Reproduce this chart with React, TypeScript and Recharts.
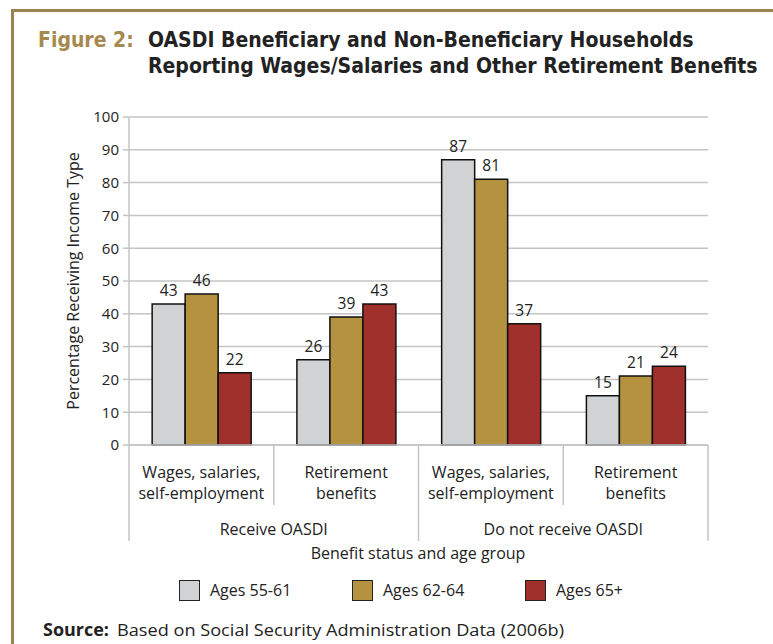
import { BarChart, Bar, XAxis, YAxis, CartesianGrid, LabelList } from 'recharts';

// category labels (two lines each) and outer groups
const catLine1 = ['Wages, salaries,', 'Retirement', 'Wages, salaries,', 'Retirement'];
const catLine2 = ['self-employment', 'benefits', 'self-employment', 'benefits'];
const groups = ['Receive OASDI', 'Receive OASDI', 'Do not receive OASDI', 'Do not receive OASDI'];

// percentage receiving income type
const ages5561 = [43, 26, 87, 15];
const ages6264 = [46, 39, 81, 21];
const ages65plus = [22, 43, 37, 24];

const yTicks = [0, 10, 20, 30, 40, 50, 60, 70, 80, 90, 100];

const SERIES = [
  { key: 'a', name: 'Ages 55-61', color: '#d1d2d4', values: ages5561 },
  { key: 'b', name: 'Ages 62-64', color: '#b5923f', values: ages6264 },
  { key: 'c', name: 'Ages 65+', color: '#a0302b', values: ages65plus },
];

const data = catLine1.map((_, i) => ({
  cat: i,
  group: groups[i],
  a: ages5561[i],
  b: ages6264[i],
  c: ages65plus[i],
}));

const FONT = '"Open Sans", Lato, sans-serif';
const TITLE_FONT = '"DejaVu Sans", sans-serif';

const W = 773;
const H = 644;
const PLOT_LEFT = 129;
const PLOT_RIGHT = 708;
const PLOT_TOP = 117;
const PLOT_BOTTOM = 445;
const Y_W = 60;
const BAND = (PLOT_RIGHT - PLOT_LEFT) / catLine1.length;
const SEP = '#c4c4c4';
const TXT = 16;

function CategoryTick(props: any) {
  const { x, index } = props;
  const left = x - BAND / 2;
  const groupStart = index === 0 || groups[index] !== groups[index - 1];
  const last = index === catLine1.length - 1;
  return (
    <g>
      <line x1={left} x2={left} y1={PLOT_BOTTOM} y2={groupStart ? PLOT_BOTTOM + 96 : PLOT_BOTTOM + 60} stroke={SEP} strokeWidth={1.5} />
      {last && <line x1={left + BAND} x2={left + BAND} y1={PLOT_BOTTOM} y2={PLOT_BOTTOM + 96} stroke={SEP} strokeWidth={1.5} />}
      <text x={x} y={PLOT_BOTTOM + 33} textAnchor="middle" fontSize={TXT} fill="#222" fontFamily={FONT}>{catLine1[index]}</text>
      <text x={x} y={PLOT_BOTTOM + 54} textAnchor="middle" fontSize={TXT} fill="#222" fontFamily={FONT}>{catLine2[index]}</text>
    </g>
  );
}

function GroupTick(props: any) {
  const { x, index } = props;
  const groupStart = index === 0 || groups[index] !== groups[index - 1];
  if (!groupStart) return null;
  return (
    <text x={x + BAND / 2} y={PLOT_BOTTOM + 90} textAnchor="middle" fontSize={TXT} fill="#222" fontFamily={FONT}>{groups[index]}</text>
  );
}

const titleStyle = { fontFamily: TITLE_FONT, fontStretch: 'condensed', fontWeight: 700, fontSize: 21, lineHeight: '26px', whiteSpace: 'nowrap' as const };

export default function App() {
  return (
    <div style={{ position: 'absolute', left: 0, top: 0, width: W, height: H, overflow: 'hidden', background: '#fff', fontFamily: FONT }}>
      <div style={{ position: 'absolute', left: 11, top: 9, width: 900, height: 900, border: '3px solid #9c8152' }} />

      <div style={{ position: 'absolute', left: 38, top: 27, ...titleStyle, color: '#a5894f' }}>Figure 2:</div>
      <div style={{ position: 'absolute', left: 148, top: 27, ...titleStyle, color: '#222' }}>
        OASDI Beneficiary and Non-Beneficiary Households<br />
        Reporting Wages/Salaries and Other Retirement Benefits
      </div>

      <div style={{ position: 'absolute', left: 0, top: 0 }}>
        <BarChart
          width={W}
          height={H}
          data={data}
          margin={{ top: PLOT_TOP, right: W - PLOT_RIGHT, left: PLOT_LEFT - Y_W, bottom: H - PLOT_BOTTOM - 100 }}
          barCategoryGap="16%"
          barGap={0}
        >
          <CartesianGrid vertical={false} stroke={SEP} strokeWidth={1.5} />
          <XAxis xAxisId="cat" dataKey="cat" height={50} tick={<CategoryTick />} tickLine={false} axisLine={{ stroke: SEP, strokeWidth: 1.5 }} interval={0} />
          <XAxis xAxisId="grp" dataKey="cat" height={50} tick={<GroupTick />} tickLine={false} axisLine={false} interval={0} />
          <YAxis
            width={Y_W}
            domain={[0, 100]}
            ticks={yTicks}
            interval={0}
            tick={{ fontSize: 15, fill: '#222', fontFamily: FONT }}
            tickSize={6}
            tickMargin={4}
            tickLine={{ stroke: SEP, strokeWidth: 1.5 }}
            axisLine={{ stroke: SEP, strokeWidth: 1.5 }}
            label={{ value: 'Percentage Receiving Income Type', angle: -90, position: 'insideLeft', offset: 0, dx: 4, fontSize: TXT, fill: '#222', fontFamily: FONT, style: { textAnchor: 'middle' } }}
          />
          {SERIES.map((s) => (
            <Bar key={s.key} xAxisId="cat" dataKey={s.key} name={s.name} fill={s.color} stroke="#111" strokeWidth={1.5} isAnimationActive={false}>
              <LabelList dataKey={s.key} position="top" offset={8} fontSize={15.5} fill="#222" fontFamily={FONT} />
            </Bar>
          ))}
        </BarChart>
      </div>

      <div style={{ position: 'absolute', left: 0, width: 836, top: 542, textAlign: 'center', fontSize: TXT, color: '#222' }}>
        Benefit status and age group
      </div>

      <div style={{ position: 'absolute', left: 179, top: 579, display: 'flex', fontSize: TXT, color: '#222' }}>
        {SERIES.map((s) => (
          <div key={s.key} style={{ display: 'flex', alignItems: 'center', width: 173 }}>
            <div style={{ width: 19, height: 19, background: s.color, border: '1.5px solid #222', marginRight: 10 }} />
            <span>{s.name}</span>
          </div>
        ))}
      </div>

      <svg width={W} height={30} style={{ position: 'absolute', left: 0, top: 614 }}>
        <text x={43} y={22} fontFamily={FONT} fontSize={17} fontWeight={700} fill="#222" textLength={66} lengthAdjust="spacingAndGlyphs">Source:</text>
        <text x={117} y={22} fontFamily={FONT} fontSize={17} fill="#222" textLength={447} lengthAdjust="spacingAndGlyphs">Based on Social Security Administration Data (2006b)</text>
      </svg>
    </div>
  );
}
